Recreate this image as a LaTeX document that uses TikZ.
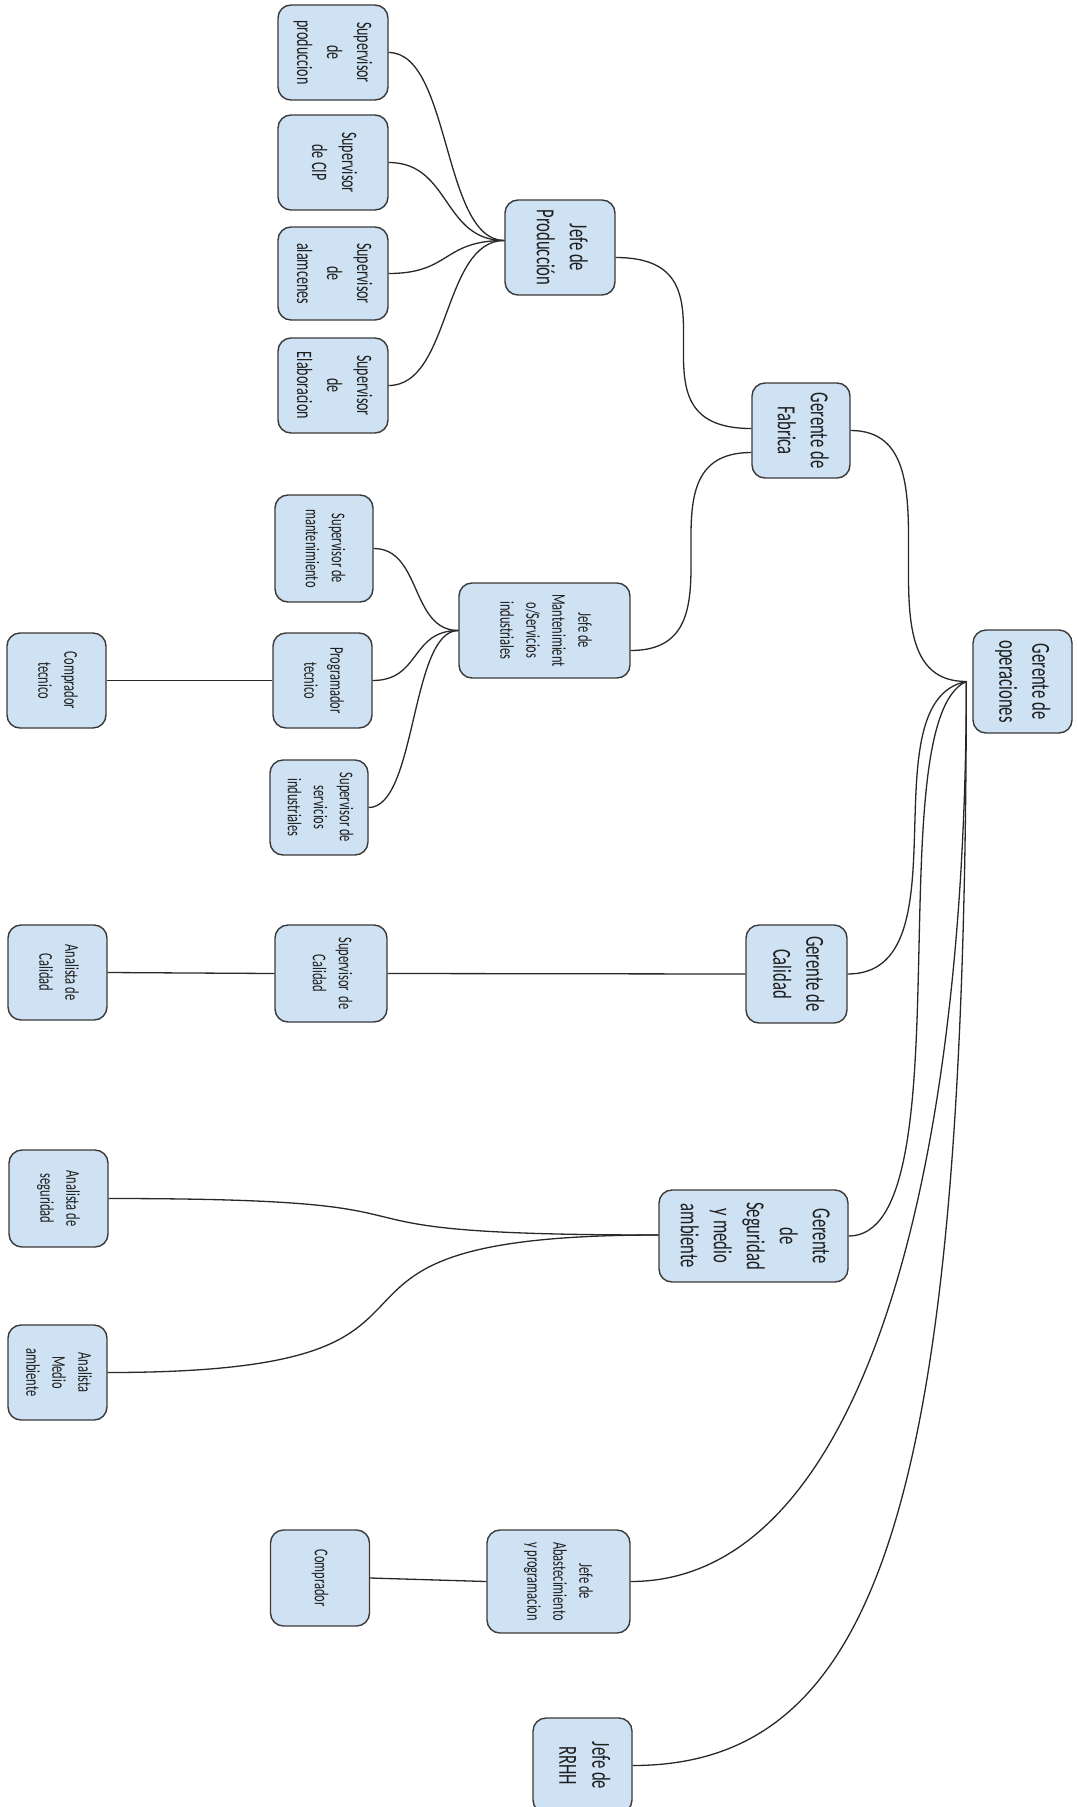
\documentclass[tikz,border=0pt]{standalone}
\usepackage{fontspec}
\setmainfont{Carlito}[FakeStretch=0.64]
\usetikzlibrary{calc}

\definecolor{boxfill}{RGB}{207,226,243}
\definecolor{boxline}{RGB}{58,58,58}
\definecolor{inkc}{RGB}{30,30,30}
\definecolor{linec}{RGB}{40,40,40}

% text of a box, read from top to bottom
\newcommand{\orgtxt}[1]{\rotatebox{-90}{\begin{tabular}{@{}c@{}}#1\end{tabular}}}

\tikzset{
  orgbox/.style={draw=boxline, line width=1.4pt, fill=boxfill, rounded corners=13pt,
    inner sep=0pt, text=inkc, align=center},
  bigtxt/.style={font=\fontsize{26}{33}\selectfont},
  midtxt/.style={font=\fontsize{22}{30}\selectfont},
  smalltxt/.style={font=\fontsize{19.5}{26}\selectfont},
  conn/.style={draw=linec, line width=1.3pt},
}

\begin{document}
\begin{tikzpicture}[x=1pt, y=-1pt]
\path[use as bounding box] (0,0) rectangle (1077,1807);
\fill[white] (0,0) rectangle (1077,1807);
\clip (0,0) rectangle (1077,1807);

% ---- production branch
\node[orgbox, midtxt, minimum width=110pt, minimum height=95pt] (supprod) at (333,52.5) {\orgtxt{Supervisor\\de\\produccion}};
\node[orgbox, midtxt, minimum width=110pt, minimum height=95pt] (supcip) at (333,162.5) {\orgtxt{Supervisor\\de CIP}};
\node[orgbox, midtxt, minimum width=110pt, minimum height=93pt] (supalm) at (333,273.5) {\orgtxt{Supervisor\\de\\alamcenes}};
\node[orgbox, midtxt, minimum width=110pt, minimum height=95pt] (supelab) at (333,385.5) {\orgtxt{Supervisor\\de\\Elaboracion}};
\node[orgbox, bigtxt, minimum width=110pt, minimum height=95pt] (jefeprod) at (560,247.5) {\orgtxt{Jefe de\\Producción}};

% ---- maintenance branch
\node[orgbox, smalltxt, minimum width=98pt, minimum height=107pt] (supmant) at (324,548.5) {\orgtxt{Supervisor de\\mantenimiento}};
\node[orgbox, smalltxt, minimum width=99pt, minimum height=95pt] (progtec) at (322.5,680.5) {\orgtxt{Programador\\tecnico}};
\node[orgbox, smalltxt, minimum width=98pt, minimum height=95pt] (supserv) at (319,807.5) {\orgtxt{Supervisor de\\servicios\\industriales}};
\node[orgbox, smalltxt, minimum width=171pt, minimum height=95pt] (jefemant) at (544.5,630.5) {\orgtxt{Jefe de\\Mantenimient\\o/Servicios\\industriales}};
\node[orgbox, smalltxt, minimum width=99pt, minimum height=95pt] (comptec) at (56.5,680.5) {\orgtxt{Comprador\\tecnico}};

% ---- managers
\node[orgbox, bigtxt, minimum width=98pt, minimum height=95pt] (gfab) at (801,430.5) {\orgtxt{Gerente de\\Fabrica}};
\node[orgbox, bigtxt, minimum width=99pt, minimum height=103pt] (gop) at (1022.5,681.5) {\orgtxt{Gerente de\\operaciones}};

% ---- quality branch
\node[orgbox, smalltxt, minimum width=99pt, minimum height=95pt] (analcal) at (57.5,972.5) {\orgtxt{Analista de\\Calidad}};
\node[orgbox, smalltxt, minimum width=112pt, minimum height=97pt] (supcal) at (331,973.5) {\orgtxt{Supervisor~ de\\Calidad}};
\node[orgbox, bigtxt, minimum width=101pt, minimum height=98pt] (gcal) at (796.5,974) {\orgtxt{Gerente de\\Calidad}};

% ---- safety and environment branch
\node[orgbox, smalltxt, minimum width=99pt, minimum height=97pt] (analseg) at (58.5,1198.5) {\orgtxt{Analista de\\seguridad}};
\node[orgbox, smalltxt, minimum width=99pt, minimum height=95pt] (analma) at (57.5,1372.5) {\orgtxt{Analista\\Medio\\ambiente}};
\node[orgbox, bigtxt, minimum width=189pt, minimum height=92pt] (gseg) at (753.5,1236) {\orgtxt{Gerente\\de\\Seguridad\\y medio\\ambiente}};

% ---- supply and human resources
\node[orgbox, smalltxt, minimum width=99pt, minimum height=96pt] (comprador) at (320,1578) {\orgtxt{Comprador}};
\node[orgbox, smalltxt, minimum width=143pt, minimum height=103pt] (jefeabast) at (558.5,1581.5) {\orgtxt{Jefe de\\Abastecimiento\\y programacion}};
\node[orgbox, bigtxt, minimum width=99pt, minimum height=95pt] (jefrrhh) at (582.5,1765.5) {\orgtxt{Jefe de\\RRHH}};

% ---- junction points
\coordinate (jpin) at ($(jefeprod.west)+(0,-7)$);
\coordinate (jpout) at ($(jefeprod.east)+(0,10)$);
\coordinate (jmout) at ($(jefemant.east)+(0,20)$);
\coordinate (gfin1) at ($(gfab.west)+(0,-2)$);
\coordinate (gfin2) at ($(gfab.west)+(0,22)$);
\coordinate (gp) at ($(gop.west)+(-6,0)$);
\coordinate (gsin) at ($(gseg.west)+(0,-1)$);

% ---- connectors
\draw[conn] (supprod.east) .. controls +(62,0) and +(-62,0) .. (jpin);
\draw[conn] (supcip.east) .. controls +(62,0) and +(-62,0) .. (jpin);
\draw[conn] (supalm.east) .. controls +(62,0) and +(-62,0) .. (jpin);
\draw[conn] (supelab.east) .. controls +(62,0) and +(-62,0) .. (jpin);

\draw[conn] (supmant.east) .. controls +(48,0) and +(-48,0) .. (jefemant.west);
\draw[conn] (progtec.east) .. controls +(48,0) and +(-48,0) .. (jefemant.west);
\draw[conn] (supserv.east) .. controls +(48,0) and +(-48,0) .. (jefemant.west);
\draw[conn] (comptec.east) -- (progtec.west);

\draw[conn] (jpout) .. controls +(137,0) and +(-137,0) .. (gfin1);
\draw[conn] (jmout) .. controls +(122,0) and +(-122,0) .. (gfin2);
\draw[conn] (gfab.east) .. controls +(117,0) and +(-117,0) .. (gp);

\draw[conn] (analcal.east) -- (supcal.west);
\draw[conn] (supcal.east) -- (gcal.west);
\draw[conn] (gcal.east) .. controls +(120,0) and +(-100,20) .. (gp);

\draw[conn] (analseg.east) .. controls +(400,0) and +(-400,0) .. (gsin);
\draw[conn] (analma.east) .. controls +(420,0) and +(-420,0) .. (gsin);
\draw[conn] (gseg.east) .. controls +(119,0) and +(-90,40) .. (gp);

\draw[conn] (comprador.east) -- (jefeabast.west);
\draw[conn] (jefeabast.east) .. controls +(230,0) and +(0,500) .. (gp);
\draw[conn] (jefrrhh.east) .. controls +(248,0) and +(0,818) .. (gp);
\end{tikzpicture}
\end{document}
